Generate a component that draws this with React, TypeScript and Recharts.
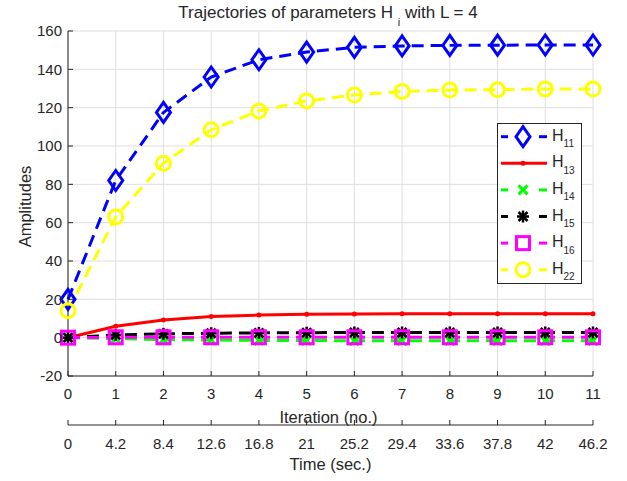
import React from "react";
import { LineChart, Line, XAxis, YAxis, CartesianGrid, Legend, Label } from "recharts";

const iterations = [0, 1, 2, 3, 4, 5, 6, 7, 8, 9, 10, 11];
const timeLabels = ["0", "4.2", "8.4", "12.6", "16.8", "21", "25.2", "29.4", "33.6", "37.8", "42", "46.2"];
const yTicks = [-20, 0, 20, 40, 60, 80, 100, 120, 140, 160];

const h11 = [20, 82, 117.5, 136, 145, 149, 151.5, 152.2, 152.5, 152.6, 152.7, 152.7];
const h13 = [0, 6, 9.2, 11, 11.8, 12.2, 12.4, 12.5, 12.5, 12.5, 12.5, 12.5];
const h14 = [0, -0.5, -1, -1.2, -1.4, -1.5, -1.6, -1.6, -1.6, -1.6, -1.6, -1.6];
const h15 = [0, 1.4, 2, 2.3, 2.5, 2.6, 2.7, 2.7, 2.7, 2.7, 2.7, 2.7];
const h16 = [0, 0.2, 0.2, 0.2, 0.2, 0.2, 0.2, 0.2, 0.2, 0.2, 0.2, 0.2];
const h22 = [14, 63, 91, 108.5, 118.3, 123.5, 126.6, 128.5, 129.2, 129.4, 129.8, 129.7];

const data = iterations.map((it, i) => ({
  iter: it,
  H11: h11[i],
  H13: h13[i],
  H14: h14[i],
  H15: h15[i],
  H16: h16[i],
  H22: h22[i],
}));

const FONT = "'Liberation Sans', Arial, Helvetica, sans-serif";
const INK = "#262626";
const DASH = "12 7";

// marker shapes, drawn centred on (cx, cy)
function Mark({ kind, cx, cy }: { kind: string; cx: number; cy: number }) {
  switch (kind) {
    case "diamond":
      return (
        <path
          d={`M${cx},${cy - 10} L${cx + 7},${cy} L${cx},${cy + 10} L${cx - 7},${cy} Z`}
          fill="none" stroke="#0000ff" strokeWidth={3}
        />
      );
    case "point":
      return <circle cx={cx} cy={cy} r={2.5} fill="#ff0000" />;
    case "x":
      return (
        <g stroke="#00ff00" strokeWidth={3}>
          <line x1={cx - 4.5} y1={cy - 4.5} x2={cx + 4.5} y2={cy + 4.5} />
          <line x1={cx - 4.5} y1={cy + 4.5} x2={cx + 4.5} y2={cy - 4.5} />
        </g>
      );
    case "star":
      return (
        <g stroke="#000000" strokeWidth={2.5}>
          <line x1={cx - 6} y1={cy} x2={cx + 6} y2={cy} />
          <line x1={cx} y1={cy - 6} x2={cx} y2={cy + 6} />
          <line x1={cx - 4.5} y1={cy - 4.5} x2={cx + 4.5} y2={cy + 4.5} />
          <line x1={cx - 4.5} y1={cy + 4.5} x2={cx + 4.5} y2={cy - 4.5} />
        </g>
      );
    case "square":
      return <rect x={cx - 6.5} y={cy - 6.5} width={13} height={13} fill="none" stroke="#ff00ff" strokeWidth={3} />;
    case "circle":
      return <circle cx={cx} cy={cy} r={7} fill="none" stroke="#ffff00" strokeWidth={3} />;
  }
  return null;
}

const dotOf = (kind: string) => (p: any) => (
  <g key={`${kind}-${p.index}`}>
    <Mark kind={kind} cx={p.cx} cy={p.cy} />
  </g>
);

const series = [
  { key: "H11", sub: "11", color: "#0000ff", dash: true, mark: "diamond" },
  { key: "H13", sub: "13", color: "#ff0000", dash: false, mark: "point" },
  { key: "H14", sub: "14", color: "#00ff00", dash: true, mark: "x" },
  { key: "H15", sub: "15", color: "#000000", dash: true, mark: "star" },
  { key: "H16", sub: "16", color: "#ff00ff", dash: true, mark: "square" },
  { key: "H22", sub: "22", color: "#ffff00", dash: true, mark: "circle" },
];

function LegendBox() {
  const rowH = 26.6;
  const h = 161;
  return (
    <svg width={85} height={h} style={{ display: "block", fontFamily: FONT }}>
      <rect x={0.5} y={0.5} width={84} height={h - 1} fill="#ffffff" stroke={INK} strokeWidth={1} />
      {series.map((s, i) => {
        const yc = 13.7 + rowH * i;
        return (
          <g key={s.key}>
            {s.dash ? (
              <g stroke={s.color} strokeWidth={3}>
                <line x1={4} y1={yc} x2={11} y2={yc} />
                <line x1={42} y1={yc} x2={50} y2={yc} />
              </g>
            ) : (
              <line x1={4} y1={yc} x2={50} y2={yc} stroke={s.color} strokeWidth={3} />
            )}
            <Mark kind={s.mark} cx={26} cy={yc} />
            <text x={55} y={yc + 4} fill={INK} fontSize={16}>
              H<tspan fontSize={10} dy={6.5}>{s.sub}</tspan>
            </text>
          </g>
        );
      })}
    </svg>
  );
}

export default function App() {
  return (
    <div style={{ position: "relative", width: 627, height: 481, fontFamily: FONT }}>
      <style>{"body{margin:0}"}</style>
      <svg
        width={627}
        height={31}
        style={{ position: "absolute", left: 0, top: 0, zIndex: 2, fontFamily: FONT }}
      >
        <text x={328} y={18} textAnchor="middle" fill={INK} fontSize={17}>
          Trajectories of parameters H <tspan fontSize={11} dy={8}>i</tspan>
          <tspan dy={-8}> with L = 4</tspan>
        </text>
      </svg>
      <LineChart
        width={627}
        height={481}
        data={data}
        margin={{ top: 31, right: 34, left: 0, bottom: 11 }}
        style={{ fontFamily: FONT }}
      >
        <CartesianGrid xAxisId="iter" yAxisId="left" stroke="#dfdfdf" strokeWidth={1} />
        <XAxis
          xAxisId="iter"
          dataKey="iter"
          type="number"
          domain={[0, 11]}
          ticks={iterations}
          height={49}
          tickSize={-5}
          tickMargin={17}
          stroke={INK}
          tick={{ fill: INK, fontSize: 15 }}
          interval={0}
        >
          <Label
            content={({ viewBox }: any) => (
              <text
                x={viewBox.x + viewBox.width / 2 - 2}
                y={viewBox.y + 41}
                textAnchor="middle"
                dominantBaseline="central"
                fill={INK}
                fontSize={16.5}
              >
                Iteration (no.)
              </text>
            )}
          />
        </XAxis>
        <XAxis
          xAxisId="time"
          dataKey="iter"
          type="number"
          domain={[0, 11]}
          ticks={iterations}
          tickFormatter={(v: number) => timeLabels[v] ?? ""}
          height={45}
          tickSize={-5}
          tickMargin={18}
          stroke={INK}
          tick={{ fill: INK, fontSize: 15 }}
          interval={0}
        >
          <Label
            content={({ viewBox }: any) => (
              <text
                x={viewBox.x + viewBox.width / 2}
                y={viewBox.y + 39}
                textAnchor="middle"
                dominantBaseline="central"
                fill={INK}
                fontSize={16.5}
              >
                Time (sec.)
              </text>
            )}
          />
        </XAxis>
        <XAxis
          xAxisId="top"
          dataKey="iter"
          orientation="top"
          type="number"
          domain={[0, 11]}
          ticks={iterations}
          height={0}
          tickSize={-5}
          stroke={INK}
          tick={false}
        />
        <YAxis
          yAxisId="left"
          type="number"
          domain={[-20, 160]}
          ticks={yTicks}
          width={68}
          tickSize={-5}
          tickMargin={11}
          stroke={INK}
          tick={{ fill: INK, fontSize: 15 }}
          interval={0}
        >
          <Label
            content={({ viewBox }: any) => {
              const cx = 25;
              const cy = viewBox.y + viewBox.height / 2 + 3;
              return (
                <text
                  x={cx}
                  y={cy}
                  transform={`rotate(-90 ${cx} ${cy})`}
                  textAnchor="middle"
                  dominantBaseline="central"
                  fill={INK}
                  fontSize={16.5}
                >
                  Amplitudes
                </text>
              );
            }}
          />
        </YAxis>
        <YAxis
          yAxisId="right"
          orientation="right"
          type="number"
          domain={[-20, 160]}
          ticks={yTicks}
          width={0}
          tickSize={-5}
          stroke={INK}
          tick={false}
        />
        {series.map((s) => (
          <Line
            key={s.key}
            xAxisId="iter"
            yAxisId="left"
            type="linear"
            dataKey={s.key}
            stroke={s.color}
            strokeWidth={3}
            strokeDasharray={s.dash ? DASH : undefined}
            dot={dotOf(s.mark)}
            activeDot={false}
            isAnimationActive={false}
          />
        ))}
        <Legend
          layout="vertical"
          align="center"
          verticalAlign="middle"
          wrapperStyle={{ left: 497, top: 123, width: 85, height: 161 }}
          content={() => <LegendBox />}
        />
      </LineChart>
    </div>
  );
}
